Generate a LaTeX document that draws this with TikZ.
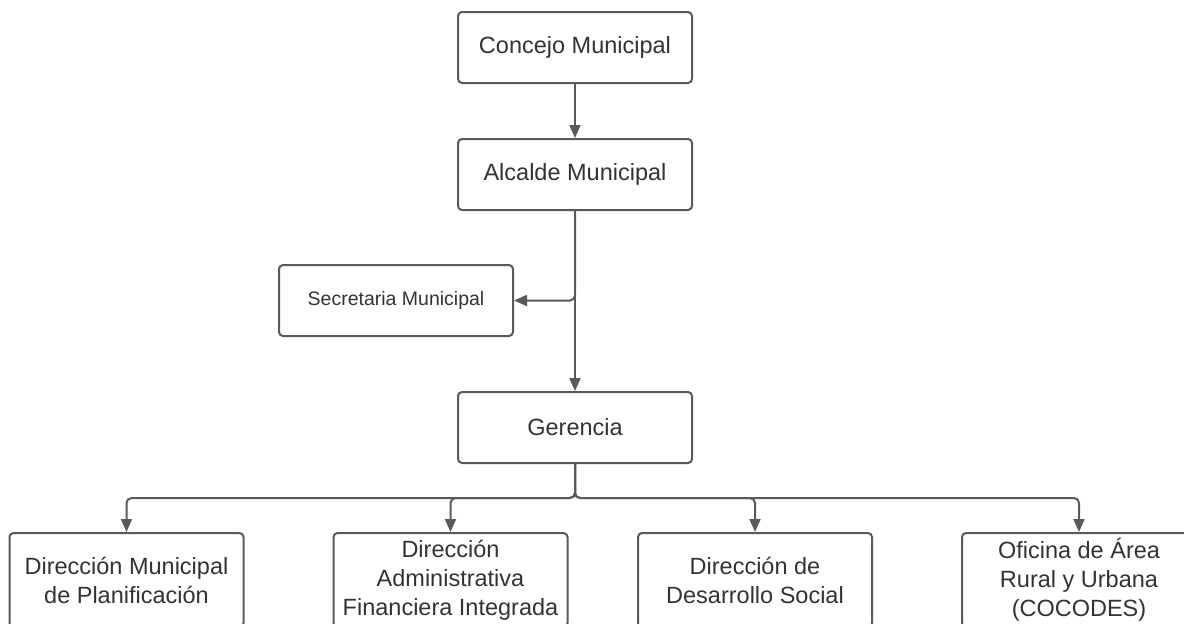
\documentclass[tikz,border=0pt]{standalone}
\usepackage{fontspec}
\setmainfont{Liberation Sans}
\usetikzlibrary{arrows.meta}
\definecolor{edgegray}{HTML}{5A5A5A}
\definecolor{textgray}{HTML}{333333}
\begin{document}
\begin{tikzpicture}[x=1pt,y=-1pt,
  box/.style={draw=edgegray, line width=2pt, rounded corners=4pt, fill=white,
    minimum width=234pt, minimum height=71pt, inner sep=2pt, align=center,
    text=textgray, font=\fontsize{23.5}{29}\selectfont},
  tallbox/.style={box, minimum height=94pt},
  link/.style={draw=edgegray, line width=2pt, rounded corners=5pt,
    -{Triangle[length=13pt,width=11pt]}}]
  \clip (0,0) rectangle (1184,624);
  \fill[white] (0,0) rectangle (1184,624);

  % chain of command
  \node[box] (con) at (575,47.5) {Concejo Municipal};
  \node[box] (alc) at (575,174.5) {Alcalde Municipal};
  \node[box, font=\fontsize{19.5}{23}\selectfont] (sec) at (396,300.5) {Secretaria Municipal};
  \node[box] (ger) at (575,427.5) {Gerencia};

  % directorates
  \node[tallbox] (dmp) at (126.5,580) {Dirección Municipal\\de Planificación};
  \node[tallbox] (daf) at (450.5,580) {Dirección\\Administrativa\\Financiera Integrada};
  \node[tallbox] (dds) at (755,580) {Dirección de\\Desarrollo Social};
  \node[tallbox] (oar) at (1079,580) {Oficina de Área\\Rural y Urbana\\(COCODES)};

  \coordinate (split) at (575,498);

  \draw[link] (con) -- (alc);
  \draw[link] (alc.south) -- (ger.north);
  \draw[link] (alc.south) |- (sec.east);
  \foreach \d in {dmp,daf,dds,oar}
    \draw[link] (ger.south) -- (split) -| (\d.north);
\end{tikzpicture}
\end{document}
